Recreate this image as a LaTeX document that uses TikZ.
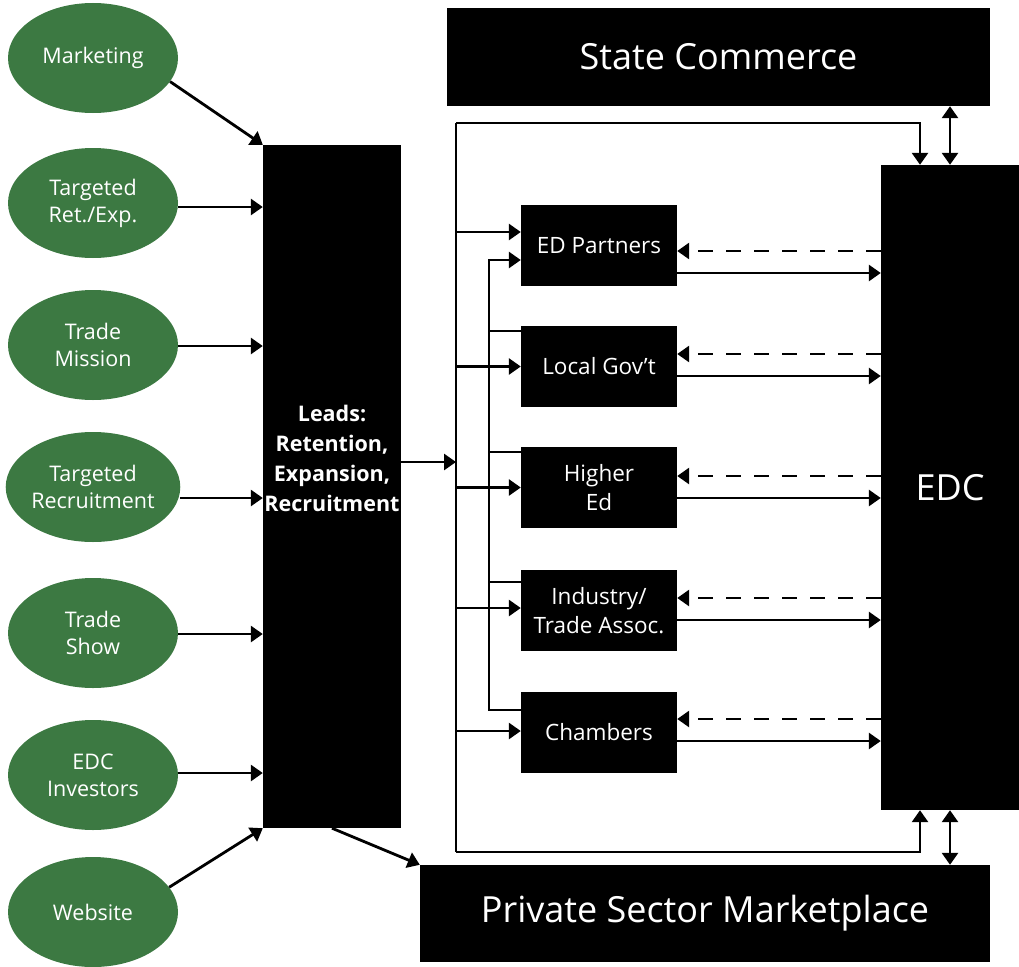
\documentclass[tikz,border=0pt]{standalone}
\usepackage{fontspec}
\setmainfont{Open Sans}
\usetikzlibrary{shapes.geometric,arrows.meta}
\definecolor{leafgreen}{RGB}{60,121,66}
\begin{document}
\begin{tikzpicture}[x=1pt,y=-1pt,
  src/.style={ellipse, fill=leafgreen, minimum width=170pt, minimum height=110pt,
    inner sep=0pt, text=white, align=center, font=\fontsize{21.5}{27}\selectfont},
  blk/.style={fill=black, text=white, inner sep=0pt, align=center},
  big/.style={font=\fontsize{36}{42}\selectfont},
  partner/.style={blk, minimum width=156pt, minimum height=81pt,
    font=\fontsize{22.5}{28.5}\selectfont},
  wire/.style={line width=2.8pt},
  con/.style={wire, -{Triangle[length=12pt,width=16pt]}},
  dcon/.style={con, dash pattern=on 15pt off 13pt},
  dbl/.style={wire, {Triangle[length=12pt,width=16pt]}-{Triangle[length=12pt,width=16pt]}}]
\useasboundingbox (0,0) rectangle (1019,966);

% lead sources
\node[src] (mkt) at (93,58)  {Marketing};
\node[src] (tre) at (93,203) {Targeted\\Ret./Exp.};
\node[src] (tm)  at (93,345) {Trade\\Mission};
\node[src] (trc) at (93,487) {Targeted\\Recruitment};
\node[src] (ts)  at (93,633) {Trade\\Show};
\node[src] (inv) at (93,775) {EDC\\Investors};
\node[src] (web) at (93,912) {Website};

% central leads column
\node[blk, minimum width=138pt, minimum height=683pt] (leads) at (332,486.5) {};
\node[text=white, align=center, inner sep=0pt, font=\bfseries\fontsize{21.5}{30}\selectfont] (leadstxt) at (332,458)
  {Leads:\\Retention,\\Expansion,\\Recruitment};

% outer blocks
\node[blk, big, minimum width=543pt, minimum height=98pt] (sc) at (718.5,57) {State Commerce};
\node[blk, big, minimum width=570pt, minimum height=97pt] (psm) at (705,913.5) {Private Sector Marketplace};
\node[blk, big, minimum width=138pt, minimum height=645pt] (edc) at (950,487.5) {EDC};

% partners
\node[partner] (edp) at (599,245.5) {ED Partners};
\node[partner] (lg)  at (599,366.5) {Local Gov't};
\node[partner] (he)  at (599,487.5) {Higher\\Ed};
\node[partner] (ind) at (599,610.5) {Industry/\\Trade Assoc.};
\node[partner] (ch)  at (599,732.5) {Chambers};

% sources into leads
\draw[con] (mkt.-17) -- (leads.north west);
\draw[con] (tre.east |- 0,207) -- (leads.west |- 0,207);
\draw[con] (tm.east  |- 0,346) -- (leads.west |- 0,346);
\draw[con] (trc.east |- 0,498) -- (leads.west |- 0,498);
\draw[con] (ts.east  |- 0,634) -- (leads.west |- 0,634);
\draw[con] (inv.east |- 0,773) -- (leads.west |- 0,773);
\draw[con] (web.18) -- (leads.south west);

% distribution bus
\coordinate (busT) at (456,123);
\coordinate (busB) at (456,852);
\draw[wire] (busT) -- (busB);
\draw[con] (leads.east |- 0,462) -- (busT |- 0,462);
\draw[con] (busT) -| ([xshift=-30pt]edc.north);
\draw[con] (busB) -| ([xshift=-30pt]edc.south);
\draw[con] (leads.south) -- (psm.north west);

\draw[con] (busT |- 0,232) -- (edp.west |- 0,232);
\draw[con] (busT |- lg.west)  -- (lg.west);
\draw[con] (busT |- he.west)  -- (he.west);
\draw[con] (busT |- 0,608) -- (ind.west |- 0,608);
\draw[con] (busT |- 0,731) -- (ch.west |- 0,731);

% partner feedback line into ED Partners
\coordinate (fbT) at (489,260);
\coordinate (fbB) at (489,710);
\draw[con] (ch.west |- fbB) -- (fbB) -- (fbT) -- (edp.west |- fbT);
\draw[wire] (lg.west  |- 0,331) -- (fbT |- 0,331);
\draw[wire] (he.west  |- 0,452) -- (fbT |- 0,452);
\draw[wire] (ind.west |- 0,582) -- (fbT |- 0,582);

% exchanges with EDC
\foreach \p/\d/\s in {edp/251/273, lg/354/376, he/476/498, ind/598/620, ch/719/741} {
  \draw[dcon] (edc.west |- 0,\d) -- (\p.east |- 0,\d);
  \draw[con] (\p.east |- 0,\s) -- (edc.west |- 0,\s);
}

% state and market links
\draw[dbl] (edc.north |- sc.south) -- (edc.north);
\draw[dbl] (edc.south) -- (edc.south |- psm.north);
\end{tikzpicture}
\end{document}
